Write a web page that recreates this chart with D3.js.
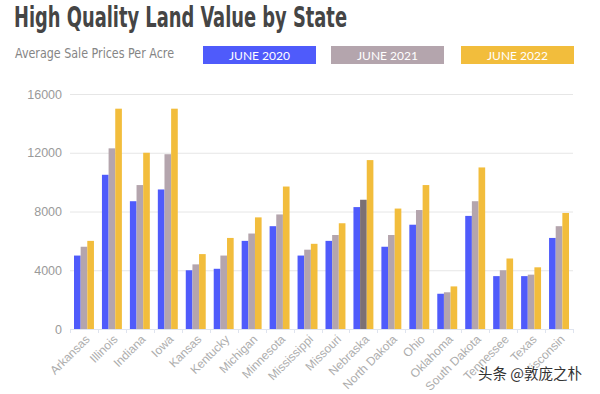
<!DOCTYPE html>
<html>
<head>
<meta charset="utf-8">
<script src="https://cdn.jsdelivr.net/npm/d3@7"></script>
<style>
  body { margin: 0; background: #fff; }
  svg { display: block; }
</style>
</head>
<body>
<svg></svg>
<script>
var states = ["Arkansas", "Illinois", "Indiana", "Iowa", "Kansas", "Kentucky", "Michigan",
  "Minnesota", "Mississippi", "Missouri", "Nebraska", "North Dakota", "Ohio", "Oklahoma",
  "South Dakota", "Tennessee", "Texas", "Wisconsin"];
var series = ["JUNE 2020", "JUNE 2021", "JUNE 2022"];
var june2020 = [5000, 10500, 8700, 9500, 4000, 4100, 6000, 7000, 5000, 6000, 8300, 5600, 7100, 2400, 7700, 3600, 3600, 6200];
var june2021 = [5600, 12300, 9800, 11900, 4400, 5000, 6500, 7800, 5400, 6400, 8800, 6400, 8100, 2500, 8700, 4000, 3700, 7000];
var june2022 = [6000, 15000, 12000, 15000, 5100, 6200, 7600, 9700, 5800, 7200, 11500, 8200, 9800, 2900, 11000, 4800, 4200, 7900];
var yTicks = [0, 4000, 8000, 12000, 16000];

var colors = ["#4f5bfb", "#b4a5ad", "#f2bd3c"];
var highlight = "Nebraska"; // hovered group in the source picture
var highlightColor = "#7b7074";

var svg = d3.select("svg").attr("width", 600).attr("height", 394);
var font = "'Liberation Sans', Arial, sans-serif";
var narrow = "'Liberation Sans Narrow', 'DejaVu Sans Condensed', sans-serif";

// title + subtitle
svg.append("text")
  .attr("x", 14).attr("y", 27)
  .attr("font-family", narrow).attr("font-weight", "bold").attr("font-size", 28)
  .attr("textLength", 333).attr("lengthAdjust", "spacingAndGlyphs")
  .attr("fill", "#454545")
  .text("High Quality Land Value by State");

svg.append("text")
  .attr("x", 15).attr("y", 58)
  .attr("font-family", narrow).attr("font-size", 14)
  .attr("textLength", 159).attr("lengthAdjust", "spacingAndGlyphs")
  .attr("fill", "#858585")
  .text("Average Sale Prices Per Acre");

// legend
var legendX = [203, 331, 461];
var legend = svg.append("g").selectAll("g")
  .data(series)
  .enter().append("g")
  .attr("transform", function(d, i) { return "translate(" + legendX[i] + ",46)"; });
legend.append("rect")
  .attr("width", 113).attr("height", 18)
  .attr("fill", function(d, i) { return colors[i]; });
legend.append("text")
  .attr("x", 56.5).attr("y", 13.5)
  .attr("text-anchor", "middle")
  .attr("font-family", "Lato, sans-serif").attr("font-size", 12)
  .attr("fill", "#fff")
  .text(function(d) { return d; });

// chart
var margin = {left: 70, right: 27, top: 94, bottom: 65};
var width = 600 - margin.left - margin.right,
    height = 394 - margin.top - margin.bottom;

var g = svg.append("g").attr("transform", "translate(" + margin.left + "," + margin.top + ")");

var x0 = d3.scaleBand().domain(states).range([0, width]);
var x1 = d3.scaleBand().domain(series).range([4, x0.bandwidth() - 4]);
var y = d3.scaleLinear().domain([0, 16000]).range([height, 0]);

var rows = states.map(function(s, i) {
  return {state: s, values: [june2020[i], june2021[i], june2022[i]]};
});

// grid
g.append("g")
  .selectAll("line")
  .data(yTicks.slice(1))
  .enter().append("line")
  .attr("x1", 0).attr("x2", width)
  .attr("y1", function(d) { return y(d) + 0.5; })
  .attr("y2", function(d) { return y(d) + 0.5; })
  .attr("stroke", "#e6e6e6");

var yAxis = g.append("g")
  .call(d3.axisLeft(y).tickValues(yTicks).tickSize(0).tickPadding(8).tickFormat(d3.format("d")));
yAxis.select(".domain").remove();
yAxis.selectAll("text")
  .attr("font-family", font).attr("font-size", 12.5).attr("fill", "#9a9a9a");

// bars
var groups = g.selectAll(".grp")
  .data(rows)
  .enter().append("g")
  .attr("class", "grp")
  .attr("transform", function(d) { return "translate(" + x0(d.state) + ",0)"; });

groups.selectAll("rect")
  .data(function(d) {
    return d.values.map(function(v, i) { return {state: d.state, key: series[i], i: i, value: v}; });
  })
  .enter().append("rect")
  .attr("x", function(d) { return x1(d.key); })
  .attr("width", x1.bandwidth())
  .attr("y", function(d) { return y(d.value); })
  .attr("height", function(d) { return height - y(d.value); })
  .attr("fill", function(d) {
    if (d.state === highlight && d.i === 1) return highlightColor;
    return colors[d.i];
  });

// x axis
var xAxis = g.append("g")
  .attr("transform", "translate(0," + height + ")")
  .call(d3.axisBottom(x0).tickSize(0).tickPadding(0));
xAxis.select(".domain").attr("stroke", "#dfe4ef");
xAxis.selectAll(".tick text")
  .attr("font-family", font).attr("font-size", 12).attr("fill", "#adadad")
  .attr("text-anchor", "end")
  .attr("y", 0)
  .attr("dy", "0.35em")
  .attr("transform", "translate(3.5,8) rotate(-45)");

// boundary ticks between categories
xAxis.append("g")
  .selectAll("line")
  .data(states.concat([null]))
  .enter().append("line")
  .attr("x1", function(d, i) { return Math.round(i * x0.step()) + 0.5; })
  .attr("x2", function(d, i) { return Math.round(i * x0.step()) + 0.5; })
  .attr("y1", 0).attr("y2", 4)
  .attr("stroke", "#dfe4ef");

// watermark
svg.append("text")
  .attr("x", 478).attr("y", 379)
  .attr("font-family", "'Noto Sans CJK SC', sans-serif").attr("font-size", 14.5)
  .attr("fill", "#333")
  .attr("stroke", "#fff").attr("stroke-width", 1.5).attr("paint-order", "stroke")
  .text("头条 @敦庞之朴");
</script>
</body>
</html>
